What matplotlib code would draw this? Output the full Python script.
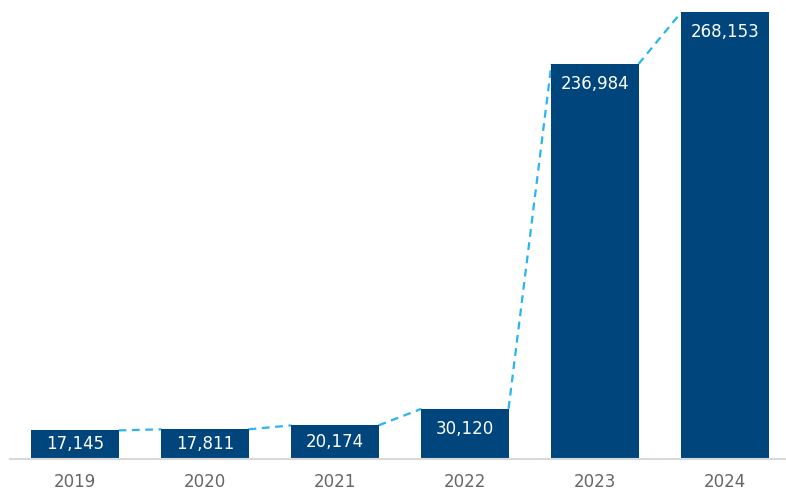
import matplotlib
matplotlib.use("Agg")
import matplotlib.pyplot as plt
import numpy as np

years = ["2019", "2020", "2021", "2022", "2023", "2024"]
values = [17145, 17811, 20174, 30120, 236984, 268153]

plt.rcParams['font.family'] = ['DejaVu Sans']

fig = plt.figure(figsize=(7.86, 4.92), dpi=100)
ax = fig.add_axes([10/786, 33/492, 780/786, 447/492])

x = np.arange(len(values))
w = 0.67
bar_color = "#00457c"
ax.bar(x, values, width=w, color=bar_color, zorder=2)

# dashed connectors from right top of bar to left top of next bar
for i in range(len(values) - 1):
    ax.plot([x[i] + w/2, x[i+1] - w/2], [values[i], values[i+1]],
            linestyle=(0, (3.5, 2.5)), color="#29b5f0", lw=1.6, zorder=1)

ax.set_xlim(-0.5, 5.5)
ax.set_ylim(0, max(values))

# label positions: 20px below top, or bar center if bar is short
px_per_unit = 447 / max(values)
for xi, v in zip(x, values):
    y = max(v - 20/px_per_unit, v/2 + 0.5/px_per_unit)
    ax.text(xi, y, f"{v:,}", ha="center", va="center", color="white",
            fontsize=12, zorder=3)

for s in ["top", "right", "left"]:
    ax.spines[s].set_visible(False)
ax.spines["bottom"].set_color("#d9d9d9")
ax.spines["bottom"].set_linewidth(1.5)
ax.set_yticks([])
ax.set_xticks(x)
ax.set_xticklabels(years, fontsize=12, color="#666666")
ax.tick_params(axis="x", length=0, pad=10)

fig.savefig("out.png", dpi=100)
